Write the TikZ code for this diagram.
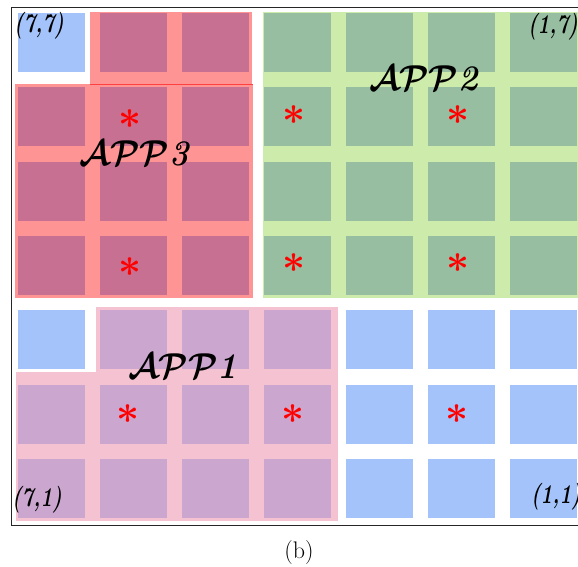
\documentclass[tikz,border=0pt]{standalone}
\usepackage{fontspec}
\usepackage{graphicx}
\begin{document}
\begin{tikzpicture}[x=1pt,y=-1pt,
  sq/.style={minimum width=67pt,minimum height=59pt,inner sep=0pt,draw=none,outer sep=0pt},
  ast/.style={text=red,inner sep=0pt},
  applabel/.style={inner sep=0pt},
  coordlabel/.style={font=\fontsize{20}{20}\selectfont\bfseries\itshape,inner sep=0pt},
]
\definecolor{blueSq}{HTML}{A3C3FA}
\definecolor{appThreeBg}{HTML}{FF9494}
\definecolor{appThreeSq}{HTML}{C87092}
\definecolor{appTwoBg}{HTML}{CDEBAA}
\definecolor{appTwoSq}{HTML}{97BEA1}
\definecolor{appOneBg}{HTML}{F4C2D1}
\definecolor{appOneSq}{HTML}{CBA6CF}
\newcommand{\applab}[1]{\scalebox{3.3}[3.6]{\boldmath$\mathcal{APP}$\textbf{\textit{#1}}}}
\newcommand{\coordlab}[1]{\scalebox{1}[1.35]{#1}}
\useasboundingbox (0,0) rectangle (578,567);
\clip (0,0) rectangle (578,567);
% frame
\draw[line width=1pt,draw=black!85] (11,8) rectangle (585,525);
% region backgrounds
\fill[appThreeBg] (90,12) rectangle (252,84);
\fill[appThreeBg] (15,84) rectangle (253,298);
\draw[red!75,line width=0.6pt] (90,84) -- (253,84);
\fill[appTwoBg] (263,12) rectangle (585,298);
\fill[appOneBg] (96,307) rectangle (338,521);
\fill[appOneBg] (16,372) rectangle (96,521);
% squares
\foreach \c/\r/\col in {7/7/blueSq,7/3/blueSq,3/3/blueSq,2/3/blueSq,1/3/blueSq,3/2/blueSq,2/2/blueSq,1/2/blueSq,3/1/blueSq,2/1/blueSq,1/1/blueSq,
  6/7/appThreeSq,5/7/appThreeSq,7/6/appThreeSq,6/6/appThreeSq,5/6/appThreeSq,7/5/appThreeSq,6/5/appThreeSq,5/5/appThreeSq,7/4/appThreeSq,6/4/appThreeSq,5/4/appThreeSq,
  4/7/appTwoSq,3/7/appTwoSq,2/7/appTwoSq,1/7/appTwoSq,4/6/appTwoSq,3/6/appTwoSq,2/6/appTwoSq,1/6/appTwoSq,4/5/appTwoSq,3/5/appTwoSq,2/5/appTwoSq,1/5/appTwoSq,4/4/appTwoSq,3/4/appTwoSq,2/4/appTwoSq,1/4/appTwoSq,
  6/3/appOneSq,5/3/appOneSq,4/3/appOneSq,7/2/appOneSq,6/2/appOneSq,5/2/appOneSq,4/2/appOneSq,7/1/appOneSq,6/1/appOneSq,5/1/appOneSq,4/1/appOneSq}
  \node[sq,fill=\col] (s\c\r) at ({18+82*(7-\c)+33.5},{13+74.3*(7-\r)+29.5}) {};
% asterisks
\foreach \n/\dx/\dy in {66/-4/-2,64/-4/-2,46/-4/2,26/-4/2,44/-4/2,24/-4/2,62/-6/0,42/-5/0,22/-5/0}
  \node[ast] (a\n) at ([xshift=\dx pt,yshift=\dy pt]s\n.center) {\scalebox{4}{\boldmath$\ast$}};
% labels
\node[applabel] (l3) at (135,153) {\applab{3}};
\node[applabel] (l2) at (424,78) {\applab{2}};
\node[applabel] (l1) at (183,366) {\applab{1}};
\node[coordlabel] (c77) at (39,26) {\coordlab{(7,7)}};
\node[coordlabel] (c17) at (553,27) {\coordlab{(1,7)}};
\node[coordlabel] (c71) at (37,500) {\coordlab{(7,1)}};
\node[coordlabel] (c11) at (556,497) {\coordlab{(1,1)}};
\node[font=\fontsize{24}{24}\selectfont,inner sep=0pt] (cap) at (299,553) {(b)};
\end{tikzpicture}
\end{document}
